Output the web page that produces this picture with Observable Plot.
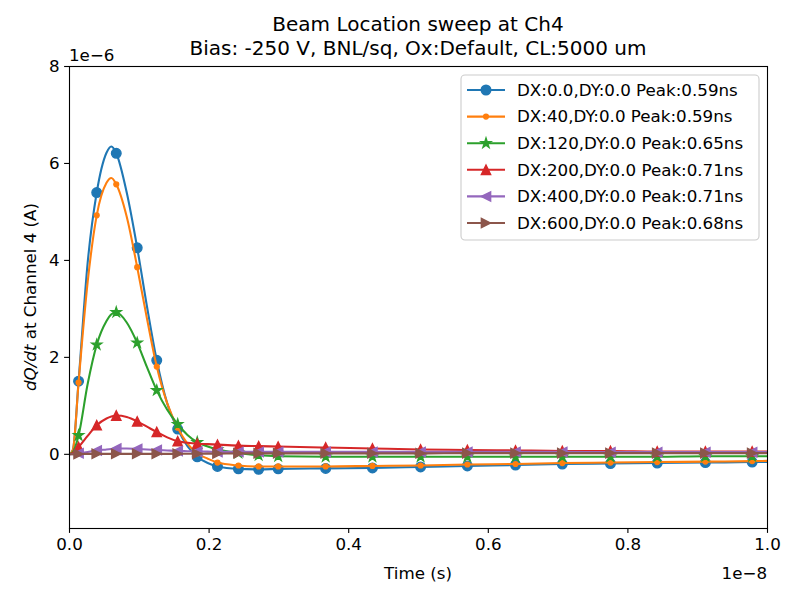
<!DOCTYPE html>
<html><head><meta charset="utf-8">
<script src="https://cdn.jsdelivr.net/npm/d3@7"></script>
<script src="https://cdn.jsdelivr.net/npm/@observablehq/plot@0.6"></script>
<style>body{margin:0;background:#fff;} #chart{width:800px;height:600px;}</style>
</head><body><div id="chart"></div>
<script>
// time samples in ns
const timeNs = [0, 0.05, 0.13, 0.26, 0.39, 0.53, 0.60, 0.67, 0.82, 0.97, 1.11, 1.25, 1.40, 1.55, 1.69, 1.83, 1.98, 2.12, 2.42, 2.71, 2.99, 3.67, 4.34, 5.03, 5.70, 6.39, 7.06, 7.75, 8.42, 9.11, 9.78, 10.0];
// times (ns) where markers are drawn
const markedNs = [0.13, 0.39, 0.67, 0.97, 1.25, 1.55, 1.83, 2.12, 2.42, 2.71, 2.99, 3.67, 4.34, 5.03, 5.70, 6.39, 7.06, 7.75, 8.42, 9.11, 9.78];
// dQ/dt values in units of 1e-6 A
const dx0   = [0, 0.10, 1.51, 3.95, 5.40, 6.22, 6.35, 6.21, 5.40, 4.26, 3.05, 1.94, 1.05, 0.52, 0.17, -0.05, -0.18, -0.25, -0.30, -0.31, -0.30, -0.29, -0.28, -0.26, -0.24, -0.22, -0.20, -0.19, -0.18, -0.17, -0.16, -0.155];
const dx40  = [0, 0.10, 1.48, 3.55, 4.93, 5.60, 5.70, 5.57, 4.90, 3.86, 2.80, 1.81, 1.05, 0.55, 0.22, 0.02, -0.09, -0.17, -0.23, -0.25, -0.25, -0.25, -0.24, -0.23, -0.21, -0.20, -0.18, -0.17, -0.16, -0.15, -0.14, -0.135];
const dx120 = [0, 0.05, 0.39, 1.45, 2.26, 2.75, 2.89, 2.93, 2.72, 2.30, 1.80, 1.32, 0.92, 0.62, 0.40, 0.25, 0.16, 0.10, 0.03, -0.02, -0.04, -0.05, -0.05, -0.05, -0.05, -0.05, -0.05, -0.05, -0.05, -0.04, -0.04, -0.04];
const dx200 = [0, 0.03, 0.15, 0.38, 0.60, 0.74, 0.78, 0.80, 0.77, 0.68, 0.57, 0.46, 0.35, 0.27, 0.24, 0.22, 0.21, 0.20, 0.18, 0.17, 0.16, 0.14, 0.12, 0.10, 0.09, 0.08, 0.07, 0.07, 0.06, 0.06, 0.06, 0.06];
const dx400 = [0, 0.00, 0.02, 0.05, 0.08, 0.10, 0.11, 0.12, 0.12, 0.11, 0.10, 0.09, 0.08, 0.07, 0.065, 0.06, 0.055, 0.05, 0.05, 0.05, 0.05, 0.05, 0.05, 0.05, 0.05, 0.05, 0.05, 0.045, 0.045, 0.045, 0.045, 0.045];
const dx600 = [0, 0.00, 0.005, 0.01, 0.01, 0.01, 0.01, 0.01, 0.01, 0.01, 0.01, 0.01, 0.01, 0.01, 0.012, 0.013, 0.014, 0.015, 0.02, 0.02, 0.02, 0.02, 0.02, 0.02, 0.025, 0.025, 0.025, 0.025, 0.025, 0.025, 0.025, 0.025];
const seriesLabels = ["DX:0.0,DY:0.0 Peak:0.59ns", "DX:40,DY:0.0 Peak:0.59ns", "DX:120,DY:0.0 Peak:0.65ns", "DX:200,DY:0.0 Peak:0.71ns", "DX:400,DY:0.0 Peak:0.71ns", "DX:600,DY:0.0 Peak:0.68ns"];
const seriesColors = ["#1f77b4", "#ff7f0e", "#2ca02c", "#d62728", "#9467bd", "#8c564b"];
const xTicks = [0.0, 0.2, 0.4, 0.6, 0.8, 1.0]; // x 1e-8 s
const yTicks = [0, 2, 4, 6, 8];                // x 1e-6 A

// matplotlib-like triangles (bbox-centred)
function tri(dir) {
  return {draw(ctx, size) {
    const h = Math.sqrt(size / 2);
    if (dir === "up") { ctx.moveTo(0, -h); ctx.lineTo(-h, h); ctx.lineTo(h, h); }
    else if (dir === "left") { ctx.moveTo(-h, 0); ctx.lineTo(h, -h); ctx.lineTo(h, h); }
    else { ctx.moveTo(h, 0); ctx.lineTo(-h, -h); ctx.lineTo(-h, h); }
    ctx.closePath();
  }};
}
const symbols = [
  {sym: d3.symbolCircle, r: 4.8},
  {sym: d3.symbolCircle, r: 2.4},
  {sym: d3.symbolStar, r: 3.1},
  {sym: tri("up"), r: 3.7},
  {sym: tri("left"), r: 3.7},
  {sym: tri("right"), r: 3.7}
];
const allValues = [dx0, dx40, dx120, dx200, dx400, dx600];
const table = [];
allValues.forEach((vals, s) => {
  vals.forEach((v, j) => table.push({s, t: timeNs[j] * 1e-9, v: v * 1e-6, mark: markedNs.includes(timeNs[j])}));
});

const marks = [];
allValues.forEach((_, s) => {
  const rows = table.filter(d => d.s === s);
  marks.push(Plot.line(rows, {x: "t", y: "v", stroke: seriesColors[s], strokeWidth: 2.08, curve: "monotone-x", clip: true}));
  marks.push(Plot.dot(rows.filter(d => d.mark), {x: "t", y: "v", symbol: symbols[s].sym, r: symbols[s].r, fill: seriesColors[s], stroke: seriesColors[s], strokeWidth: 1.39, clip: true}));
});

const svg = Plot.plot({
  width: 800, height: 600,
  marginLeft: 69, marginRight: 33, marginTop: 66, marginBottom: 72,
  style: {fontFamily: "DejaVu Sans", fontSize: "16.7px", background: "white", color: "black"},
  x: {domain: [0, 1e-8]},
  y: {domain: [-1.53e-6, 8e-6]},
  marks: [
    ...marks,
    Plot.axisX({ticks: xTicks.map(d => d * 1e-8), tickFormat: d => (d * 1e8).toFixed(1), tickSize: 4.9, tickPadding: 4.5, fontSize: 16.7, label: null, strokeWidth: 1.1}),
    Plot.axisY({ticks: yTicks.map(d => d * 1e-6), tickFormat: d => String(Math.round(d * 1e6)), tickSize: 4.9, tickPadding: 4.9, fontSize: 16.7, label: null, strokeWidth: 1.1}),
    Plot.frame({stroke: "black", strokeWidth: 1.1})
  ]
});
document.getElementById("chart").appendChild(svg);

const g = d3.select(svg).append("g").attr("font-family", "DejaVu Sans").attr("fill", "black").attr("text-anchor", "start");
g.append("text").attr("x", 418).attr("y", 31).attr("text-anchor", "middle").attr("font-size", "20px").text("Beam Location sweep at Ch4");
g.append("text").attr("x", 418).attr("y", 55).attr("text-anchor", "middle").attr("font-size", "20px").text("Bias: -250 V, BNL/sq, Ox:Default, CL:5000 um");
g.append("text").attr("x", 69).attr("y", 61).attr("text-anchor", "start").attr("font-size", "16.7px").text("1e\u22126");
g.append("text").attr("x", 418).attr("y", 579).attr("text-anchor", "middle").attr("font-size", "16.7px").text("Time (s)");
g.append("text").attr("x", 767).attr("y", 579).attr("text-anchor", "end").attr("font-size", "16.7px").text("1e\u22128");
const yl = g.append("text").attr("transform", "translate(36,297) rotate(-90)").attr("text-anchor", "middle").attr("font-size", "16.7px");
yl.append("tspan").attr("font-style", "italic").text("dQ/dt");
yl.append("tspan").text(" at Channel 4 (A)");

// legend
const lg = g.append("g");
lg.append("rect").attr("x", 461).attr("y", 75).attr("width", 298).attr("height", 165).attr("rx", 4)
  .attr("fill", "white").attr("fill-opacity", 0.8).attr("stroke", "#cccccc").attr("stroke-width", 1.1);
seriesLabels.forEach((lab, i) => {
  const y = 90 + i * 26.6;
  lg.append("line").attr("x1", 467).attr("x2", 505).attr("y1", y).attr("y2", y).attr("stroke", seriesColors[i]).attr("stroke-width", 2.08);
  const r = symbols[i].r;
  lg.append("path").attr("d", d3.symbol(symbols[i].sym, Math.PI * r * r)()).attr("transform", `translate(486,${y})`)
    .attr("fill", seriesColors[i]).attr("stroke", seriesColors[i]).attr("stroke-width", 1.39);
  lg.append("text").attr("x", 517).attr("y", y).attr("dy", "0.35em").attr("text-anchor", "start").attr("font-size", "16.7px").text(lab);
});
</script></body></html>
